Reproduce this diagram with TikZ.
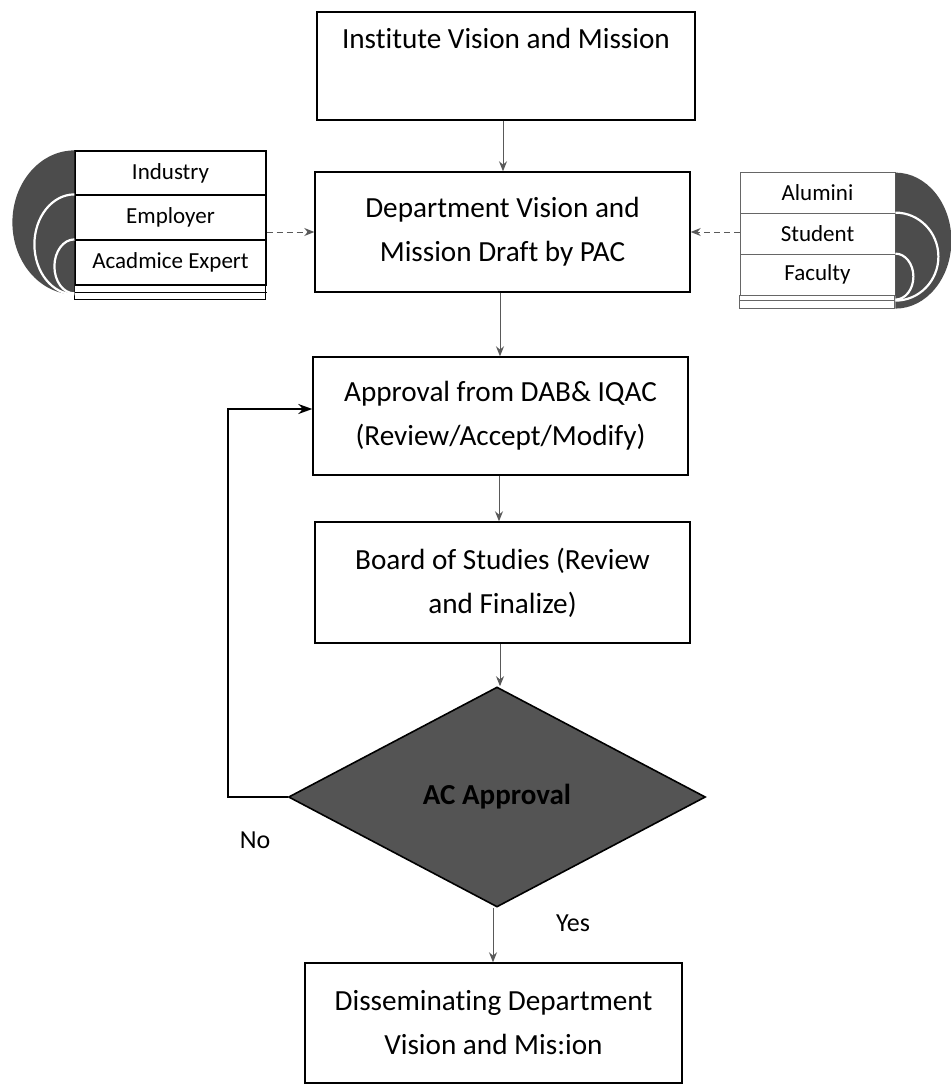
\documentclass[tikz,border=0pt]{standalone}
\usepackage{fontspec}
\setmainfont{Carlito}[Ligatures=NoCommon]
\usetikzlibrary{shapes.geometric,arrows.meta}

\tikzset{
	stepbox/.style={draw, line width=0.7pt, align=center, minimum width=187.5pt, minimum height=60pt, inner sep=0pt, font=\fontsize{14.6}{22}\selectfont},
	rowbox/.style={draw, line width=0.6pt, minimum width=95.5pt, inner sep=0pt, font=\fontsize{11.5}{14}\selectfont},
	flow/.style={-{Stealth[length=5pt,width=4pt]}, draw=gray!70!black, line width=0.5pt},
	side/.style={flow, densely dashed},
	back/.style={-{Stealth[length=7pt,width=5pt]}, line width=0.9pt},
	disc/.style={fill=black!70},
	ring/.style={draw=white, line width=1.1pt}
}

\begin{document}
\begin{tikzpicture}[x=0.5pt, y=-0.5pt]

	\useasboundingbox (0,0) rectangle (951,1088);

	% Main column
	\node[stepbox, minimum width=189pt, minimum height=54pt,
		label={[anchor=north, yshift=-5pt, font=\fontsize{14.6}{22}\selectfont]north:Institute Vision and Mission}]
		(inst) at (506,66) {};
	\node[stepbox] (dept) at (502.5,232) {Department Vision and\\Mission Draft by PAC};
	\node[stepbox, minimum height=59pt] (appr) at (500.5,416) {Approval from DAB\& IQAC\\(Review/Accept/Modify)};
	\node[stepbox, minimum height=60.5pt] (board) at (502.5,582.5) {Board of Studies (Review\\and Finalize)};
	\node[diamond, draw, line width=0.8pt, fill=black!67, minimum width=208.5pt, minimum height=110pt, inner sep=0pt,
		font=\bfseries\fontsize{14.5}{17}\selectfont] (ac) at (497,797) {AC Approval};
	\node[stepbox, minimum width=188.5pt] (diss) at (493.5,1023) {Disseminating Department\\Vision and Mis:ion};

	% Left stack
	\node[rowbox, minimum height=22pt] (ind) at (170.5,173) {Industry};
	\node[rowbox, minimum height=22.5pt] (emp) at (170.5,217.5) {Employer};
	\node[rowbox, minimum height=22.5pt] (acad) at (170.5,262.5) {Acadmice Expert};
	\draw[line width=0.6pt] (acad.south west) rectangle ++(191,14);
	\draw[line width=0.6pt] ([yshift=-3.5pt]acad.south west) -- ([yshift=-3.5pt]acad.south east);
	\fill[disc] (ind.north west) arc[start angle=90, end angle=270, x radius=31pt, y radius=36pt] -- cycle;
	\draw[ring] (emp.north west) arc[start angle=90, end angle=270, x radius=20pt, y radius=25pt];
	\draw[ring] (acad.north west) arc[start angle=90, end angle=270, x radius=10pt, y radius=13.5pt];

	% Right stack
	\node[rowbox, draw=gray!80!black, line width=0.4pt, minimum width=77.5pt, minimum height=20.5pt] (alu) at (817.5,192.5) {Alumini};
	\node[rowbox, draw=gray!80!black, line width=0.4pt, minimum width=77.5pt, minimum height=20.5pt] (stu) at (817.5,233.5) {Student};
	\node[rowbox, draw=gray!80!black, line width=0.4pt, minimum width=77.5pt, minimum height=20.5pt] (fac) at (817.5,274.5) {Faculty};
	\draw[draw=gray!80!black, line width=0.4pt] (fac.south west) rectangle ++(155,13);
	\draw[draw=gray!80!black, line width=0.4pt] ([yshift=-2.5pt]fac.south west) -- ([yshift=-2.5pt]fac.south east);
	\fill[disc] ([yshift=-0.5pt]alu.north east) arc[start angle=90, end angle=-90, x radius=28pt, y radius=34pt] -- cycle;
	\draw[ring] (stu.north east) arc[start angle=90, end angle=-90, x radius=21.5pt, y radius=22pt];
	\draw[ring] (fac.north east) arc[start angle=90, end angle=-90, x radius=9pt, y radius=11.5pt];

	% Flow arrows
	\draw[flow] (inst.south -| 503,0) -- (dept.north -| 503,0);
	\draw[flow] (dept.south -| 500,0) -- (appr.north -| 500,0);
	\draw[flow] (appr.south -| 499,0) -- (board.north -| 499,0);
	\draw[flow] (board.south -| 500,0) -- (ac.north -| 500,0);
	\draw[flow] (ac.south -| 493,0) -- (diss.north -| 493,0);
	\draw[side] (emp.east |- dept.west) -- (dept.west);
	\draw[side] (stu.west |- dept.east) -- (dept.east);

	% No loop
	\draw[back] (ac.west) -- ++(-60,0) |- ([yshift=3.5pt]appr.west);
	\node[font=\fontsize{13}{16}\selectfont] (no) at (255,840) {No};
	\node[font=\fontsize{13}{16}\selectfont] (yes) at (573,923) {Yes};

\end{tikzpicture}
\end{document}
